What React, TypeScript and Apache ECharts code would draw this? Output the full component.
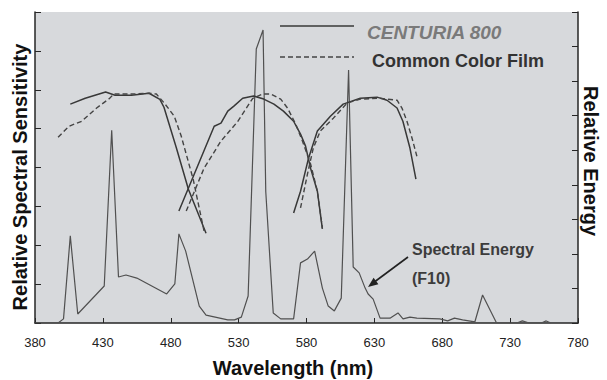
import React, { useEffect, useRef } from "react";
import * as echarts from "echarts";

// Wavelength axis ticks (nm)
const xTicks = [380, 430, 480, 530, 580, 630, 680, 730, 780];

// Relative spectral sensitivity (left axis units 0-8) : [nm, value]
const centuriaBlue: [number, number][] = [
  [406, 5.63], [417, 5.78], [432, 5.94], [439, 5.86], [451, 5.86], [464, 5.91],
  [472, 5.75], [475, 5.55], [484, 4.52], [493, 3.44], [506, 2.31],
];
const centuriaGreen: [number, number][] = [
  [486, 2.88], [512, 5.06], [517, 5.14], [522, 5.45], [526.5, 5.58], [533, 5.78],
  [541, 5.84], [548.5, 5.76], [556, 5.63], [563, 5.45], [570.5, 5.19], [575.6, 4.86],
  [579.3, 4.55], [583, 3.98], [588, 3.39], [591.7, 2.42],
];
const centuriaRed: [number, number][] = [
  [570.5, 2.83], [575.6, 3.39], [581.5, 4.24], [588, 4.94], [597.6, 5.32], [607, 5.63],
  [619.6, 5.78], [632, 5.81], [639.3, 5.73], [646.7, 5.53], [651, 5.19], [656.2, 4.5],
  [660.6, 3.7],
];
const filmBlue: [number, number][] = [
  [397, 4.78], [405, 5.06], [414.4, 5.19], [425.4, 5.53], [435, 5.78], [438, 5.89],
  [451, 5.89], [464, 5.91], [469.4, 5.89], [475.2, 5.66], [482.6, 5.32], [487.7, 4.81],
  [496.5, 3.7], [504.5, 2.37],
];
const filmGreen: [number, number][] = [
  [491.4, 2.88], [504.5, 3.98], [517, 4.68], [529.5, 5.19], [540.4, 5.78], [547.8, 5.89],
  [553.6, 5.89], [561, 5.76], [566, 5.53], [572, 5.12], [577, 4.68], [583, 4.09],
  [588, 3.39], [591.7, 2.44],
];
const filmRed: [number, number][] = [
  [575.6, 2.96], [580.7, 3.83], [585, 4.5], [590.2, 4.94], [599.8, 5.27], [610, 5.66],
  [619.6, 5.76], [634.2, 5.78], [646.7, 5.73], [650.3, 5.53], [654, 5.19], [657.7, 4.76],
  [661.3, 4.29],
];

// Relative spectral energy of F10 (right axis units 0-9) : [nm, value]
const energyF10: [number, number][] = [
  [380, 0], [397, 0], [401, 0.12], [406, 2.52], [411.5, 0.26], [431, 1.07], [436.5, 5.58],
  [441.5, 1.33], [447, 1.39], [455, 1.3], [477, 0.84], [483, 1.13], [486, 2.58], [491, 2.08],
  [501, 0.49], [506, 0.23], [522, 0.09], [527, 0.09], [532, 0.17], [537, 0.78], [543, 7.93],
  [548, 8.48], [550, 3.8], [555.5, 0.29], [561, 0.12], [570.5, 0.12], [575.6, 1.74],
  [580.7, 1.85], [586, 2.08], [591.7, 1.01], [596, 0.49], [600.5, 0.35], [605.6, 0.72],
  [611, 7.32], [614.4, 1.62], [618.8, 1.45], [623.2, 1.01], [625.4, 0.84], [629.1, 0.69],
  [634.2, 0.14], [641.5, 0.14], [647.4, 0.29], [651.1, 0.12], [656.2, 0.17], [661.3, 0.14],
  [678.2, 0.12], [684, 0.06], [689, 0.14], [695, 0.09], [704, 0.03], [709.7, 0.81],
  [720, 0], [735, 0], [739, 0.06], [744, 0], [753, 0], [756.6, 0.06], [760, 0],
];

const legendNames = ["CENTURIA 800", "Common Color Film"];
const energyLabel = ["Spectral Energy", "(F10)"];

const FONT = "'Liberation Sans', Arial, Helvetica, sans-serif";

export default function App() {
  const ref = useRef<HTMLDivElement>(null);
  useEffect(() => {
    if (!ref.current) return;
    const chart = echarts.init(ref.current, undefined, { renderer: "svg" });
    const axisLine = { show: true, lineStyle: { color: "#262626", width: 1.5 } };
    const solid = (data: [number, number][]) => ({
      type: "line",
      name: legendNames[0],
      data,
      yAxisIndex: 0,
      symbol: "none",
      lineStyle: { color: "#383838", width: 1.5 },
      z: 3,
    });
    const dashed = (data: [number, number][]) => ({
      type: "line",
      name: legendNames[1],
      data,
      yAxisIndex: 0,
      symbol: "none",
      lineStyle: { color: "#444", width: 1.4, type: [5, 3] },
      z: 3,
    });
    chart.setOption({
      animation: false,
      backgroundColor: "#ffffff",
      grid: {
        left: 35,
        right: 29,
        top: 12,
        bottom: 57,
        show: true,
        backgroundColor: "#d7d9dc",
        borderWidth: 0,
      },
      xAxis: {
        type: "value",
        min: xTicks[0],
        max: xTicks[xTicks.length - 1],
        interval: 50,
        axisLine,
        axisTick: { show: true, inside: true, length: 5, lineStyle: { color: "#262626" } },
        axisLabel: {
          color: "#222",
          fontSize: 13,
          fontFamily: FONT,
          margin: 13,
        },
        splitLine: { show: false },
      },
      yAxis: [
        {
          type: "value",
          min: 0,
          max: 8,
          interval: 1,
          position: "left",
          axisLine,
          axisTick: { show: true, inside: true, length: 6, lineStyle: { color: "#262626" } },
          axisLabel: { show: false },
          splitLine: { show: false },
        },
        {
          type: "value",
          min: 0,
          max: 9,
          interval: 1,
          position: "right",
          axisLine,
          axisTick: { show: true, inside: true, length: 6, lineStyle: { color: "#262626" } },
          axisLabel: { show: false },
          splitLine: { show: false },
        },
      ],
      series: [
        {
          type: "line",
          name: "Spectral Energy (F10)",
          data: energyF10,
          yAxisIndex: 1,
          symbol: "none",
          lineStyle: { color: "#505050", width: 1.2 },
          z: 2,
        },
        solid(centuriaBlue),
        solid(centuriaGreen),
        solid(centuriaRed),
        dashed(filmBlue),
        dashed(filmGreen),
        dashed(filmRed),
      ],
      graphic: [
        // legend
        { type: "line", shape: { x1: 280, y1: 26, x2: 354, y2: 26 }, style: { stroke: "#383838", lineWidth: 1.5 } },
        {
          type: "text", x: 367, y: 32,
          style: { text: legendNames[0], fill: "#7a7a7a", font: `italic bold 19px ${FONT}`, verticalAlign: "middle" },
        },
        { type: "line", shape: { x1: 280, y1: 57, x2: 354, y2: 57 }, style: { stroke: "#444", lineWidth: 1.4, lineDash: [5, 3] } },
        {
          type: "text", x: 372, y: 61,
          style: { text: legendNames[1], fill: "#333", font: `bold 18px ${FONT}`, verticalAlign: "middle" },
        },
        // annotation
        {
          type: "text", x: 412, y: 249,
          style: { text: energyLabel[0], fill: "#3c3c3c", font: `bold 16px ${FONT}`, verticalAlign: "middle" },
        },
        {
          type: "text", x: 412, y: 278,
          style: { text: energyLabel[1], fill: "#3c3c3c", font: `bold 16px ${FONT}`, verticalAlign: "middle" },
        },
        { type: "line", shape: { x1: 408, y1: 257, x2: 373, y2: 283 }, style: { stroke: "#222", lineWidth: 1.6 } },
        {
          type: "polygon",
          shape: { points: [[368, 287], [378.4, 284.2], [373.6, 277.8]] },
          style: { fill: "#222" },
        },
        // axis titles
        {
          type: "text", x: 293, y: 368,
          style: { text: "Wavelength (nm)", fill: "#111", font: `bold 20px ${FONT}`, align: "center", verticalAlign: "middle" },
        },
        {
          type: "text", x: 20, y: 177, rotation: Math.PI / 2,
          style: { text: "Relative Spectral Sensitivity", fill: "#111", font: `bold 20px ${FONT}`, align: "center", verticalAlign: "middle" },
        },
        {
          type: "text", x: 591, y: 161, rotation: -Math.PI / 2,
          style: { text: "Relative Energy", fill: "#111", font: `bold 20px ${FONT}`, align: "center", verticalAlign: "middle" },
        },
      ],
    });
    return () => chart.dispose();
  }, []);
  return (
    <div
      ref={ref}
      style={{ position: "fixed", left: 0, top: 0, width: 607, height: 380 }}
    />
  );
}
